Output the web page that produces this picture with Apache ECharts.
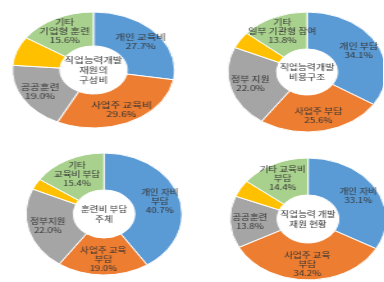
<!DOCTYPE html>
<html><head><meta charset="utf-8">
<script src="https://cdn.jsdelivr.net/npm/echarts@6/dist/echarts.min.js"></script>
<style>
html,body{margin:0;padding:0;background:#fff;}
#wrap{position:relative;width:384px;height:282px;overflow:hidden;background:#fff;}
.c{position:absolute;transform-origin:0 0;}
</style></head>
<body><div id="wrap">
<div id="c1" class="c"></div><div id="c2" class="c"></div><div id="c3" class="c"></div><div id="c4" class="c"></div>
</div>
<script>
const colors = ['#5b9bd5', '#ed7d31', '#a5a5a5', '#ffc000', '#a9d18e'];

const chart1Names = ['개인 교육비', '사업주 교육비', '공공훈련', '일부\n기관형 참여', '기타\n기업형 훈련'];
const chart1Values = [27.7, 29.6, 19.0, 8.1, 15.6];
const chart1Center = '직업능력개발\n재원의\n구성비';

const chart2Names = ['개인 부담', '사업주 부담', '정부 지원', '일부\n기관 부담', '기타\n일부 기관형 참여'];
const chart2Values = [34.1, 25.6, 22.0, 4.5, 13.8];
const chart2Center = '직업능력개발\n비용구조';

const chart3Names = ['개인 자비\n부담', '사업주 교육\n부담', '정부지원', '일부\n기관 부담', '기타\n교육비 부담'];
const chart3Values = [40.7, 19.0, 22.0, 2.9, 15.4];
const chart3Center = '훈련비 부담\n주체';

const chart4Names = ['개인 자비', '사업주 교육\n부담', '공공훈련', '일부\n교육 기관', '기타 교육비\n부담'];
const chart4Values = [33.1, 34.2, 13.8, 4.5, 14.4];
const chart4Center = '직업능력 개발\n재원 현황';

const layouts = [
  {id:'c1', L:0,   T:0,   s:1.40, cx:93.5, cy:70,  R:58, r:24},
  {id:'c2', L:192, T:0,   s:1.32, cx:307,  cy:72,  R:60, r:23},
  {id:'c3', L:0,   T:141, s:1.28, cx:104,  cy:214, R:61, r:24},
  {id:'c4', L:192, T:141, s:1.28, cx:308,  cy:219, R:61, r:24}
];
const sets = [
  [chart1Names, chart1Values, chart1Center],
  [chart2Names, chart2Values, chart2Center],
  [chart3Names, chart3Values, chart3Center],
  [chart4Names, chart4Values, chart4Center]
];
const font = '"Noto Sans CJK KR", "Noto Sans", sans-serif';

layouts.forEach((lay, i) => {
  const el = document.getElementById(lay.id);
  const w = 192 / lay.s;
  el.style.left = lay.L + 'px';
  el.style.top = lay.T + 'px';
  el.style.width = w + 'px';
  el.style.height = '141px';
  el.style.transform = 'scaleX(' + lay.s + ')';
  const [names, values, center] = sets[i];
  const x = (lay.cx - lay.L) / lay.s, y = lay.cy - lay.T;
  const chart = echarts.init(el, null, {renderer: 'canvas', width: w, height: 141});
  chart.setOption({
    animation: false,
    color: colors,
    graphic: [{
      type: 'text', x: x, y: y,
      style: {text: center, align: 'center', verticalAlign: 'middle',
        font: '7.5px ' + font, fill: '#333', lineHeight: 10}
    }],
    series: [{
      type: 'pie',
      center: [x, y],
      radius: [lay.r, lay.R],
      startAngle: 90,
      clockwise: true,
      avoidLabelOverlap: false,
      itemStyle: {borderColor: '#fff', borderWidth: 1},
      label: {
        show: true, position: 'inside', color: '#333',
        fontFamily: font,
        fontSize: 7.5, lineHeight: 9,
        formatter: p => p.name + '\n' + p.value.toFixed(1) + '%'
      },
      labelLine: {show: false},
      data: names.map((n, k) => ({name: n, value: values[k]}))
    }]
  });
});
</script>
</body></html>
